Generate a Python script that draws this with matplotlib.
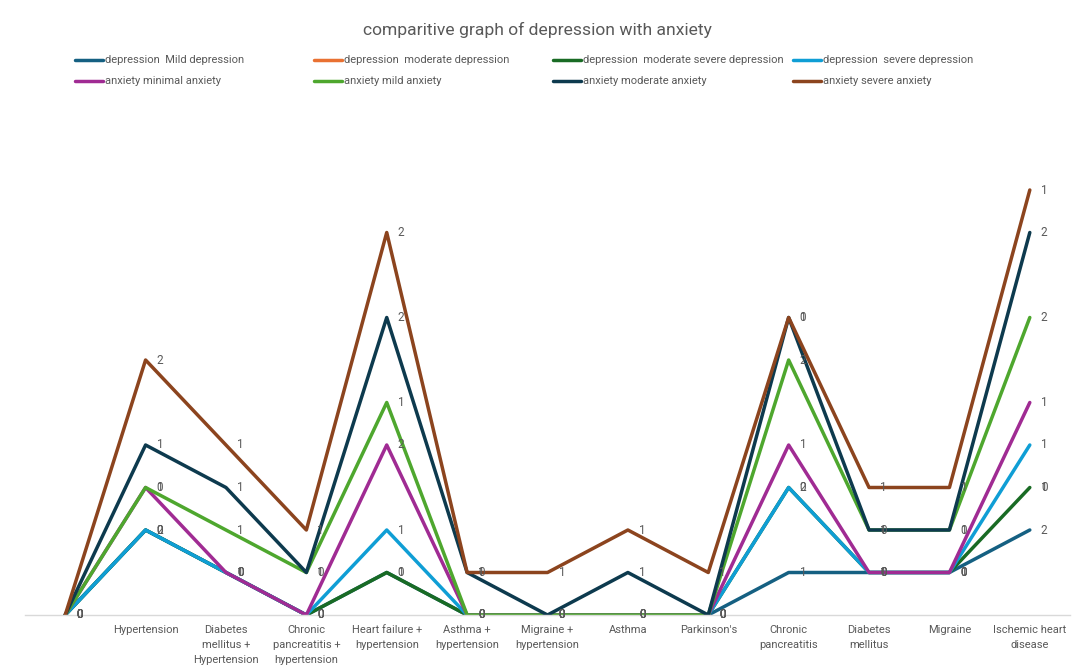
import numpy as np
import matplotlib.pyplot as plt
from matplotlib.lines import Line2D

plt.rcParams['font.family'] = ['Roboto', 'DejaVu Sans']

categories = ["", "Hypertension", "Diabetes\nmellitus +\nHypertension",
              "Chronic\npancreatitis +\nhypertension", "Heart failure +\nhypertension",
              "Asthma +\nhypertension", "Migraine +\nhypertension", "Asthma",
              "Parkinson's", "Chronic\npancreatitis", "Diabetes\nmellitus",
              "Migraine", "Ischemic heart\ndisease"]

# individual counts per series (stacked in the chart), None = empty cell
mild_dep = [0, 2, 1, 0, 1, 0, 0, 0, 0, 1, 1, 1, 2]
moderate_dep = [None] * 12 + [1]
mod_severe_dep = [0, 0, 0, 0, 0, 0, 0, 0, 0, 2, 0, 0, 0]
severe_dep = [0, 0, 0, 0, 1, 0, 0, 0, 0, 0, 0, 0, 1]
minimal_anx = [0, 1, 0, 0, 2, 0, 0, 0, 0, 1, 0, 0, 1]
mild_anx = [0, 0, 1, 1, 1, 0, 0, 0, 0, 2, 1, 1, 2]
moderate_anx = [0, 1, 1, 0, 2, 1, 0, 1, 0, 1, 0, 0, 2]
severe_anx = [0, 2, 1, 1, 2, 0, 1, 1, 1, 0, 1, 1, 1]

series = [
    ("depression  Mild depression", mild_dep, "#156082"),
    ("depression  moderate depression", moderate_dep, "#E97132"),
    ("depression  moderate severe depression", mod_severe_dep, "#196B24"),
    ("depression  severe depression", severe_dep, "#0F9ED5"),
    ("anxiety minimal anxiety", minimal_anx, "#A02B93"),
    ("anxiety mild anxiety", mild_anx, "#4EA72E"),
    ("anxiety moderate anxiety", moderate_anx, "#0D3A4E"),
    ("anxiety severe anxiety", severe_anx, "#8C441E"),
]

fig = plt.figure(figsize=(10.74, 6.65), dpi=100)
ax = fig.add_axes([25 / 1074, 50 / 665, 1045 / 1074, 510 / 665])

x = np.arange(len(categories))
running = np.zeros(len(categories))
for name, vals, color in series:
    v = np.array([np.nan if a is None else a for a in vals], dtype=float)
    running = running + np.nan_to_num(v)
    y = np.where(np.isnan(v), np.nan, running)
    ax.plot(x, y, color=color, lw=2.5, solid_capstyle="round")
    for xi, yi, vi in zip(x, y, v):
        if not np.isnan(vi):
            ax.annotate(f"{int(vi)}", (xi, yi), xytext=(8, 0), textcoords="offset points",
                        va="center", ha="left", fontsize=8.5, color="#595959")

ax.set_xlim(-0.5, len(categories) - 0.5)
ax.set_ylim(0, 12)
ax.set_xticks(x)
ax.set_xticklabels(categories, fontsize=8, color="#595959", linespacing=1.65)
ax.tick_params(axis="x", length=0, pad=7)
ax.set_yticks([])
for s in ["top", "right", "left"]:
    ax.spines[s].set_visible(False)
ax.spines["bottom"].set_color("#D9D9D9")
ax.spines["bottom"].set_linewidth(1)

fig.text(0.5, 1 - 30 / 665, "comparitive graph of depression with anxiety",
         ha="center", va="center", fontsize=12.6, color="#595959")

# legend, 4 equal columns x 2 rows
col_x = [75, 314, 553, 793]
row_y = [60, 81]
for i, (name, vals, color) in enumerate(series):
    cx = col_x[i % 4]
    cy = row_y[i // 4]
    fy = 1 - cy / 665
    fig.add_artist(Line2D([cx / 1074, (cx + 28) / 1074], [fy, fy], color=color, lw=2.5,
                          solid_capstyle="round"))
    fig.text((cx + 30) / 1074, fy, name, ha="left", va="center", fontsize=8, color="#595959")

fig.savefig("out.png", dpi=100)
